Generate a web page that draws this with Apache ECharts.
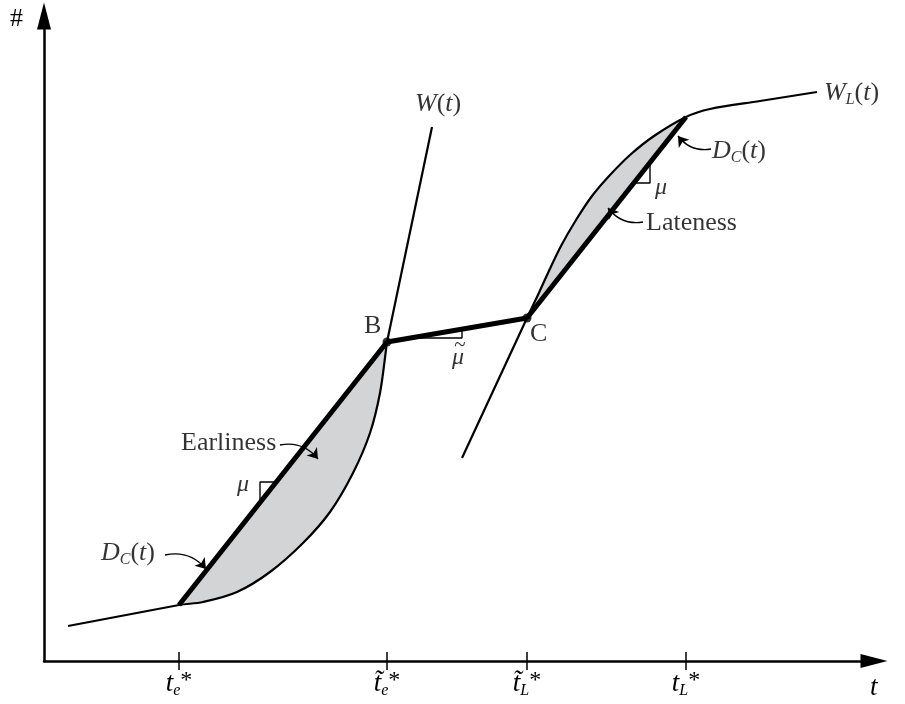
<!DOCTYPE html>
<html><head><meta charset="utf-8">
<script src="https://cdn.jsdelivr.net/npm/echarts@6/dist/echarts.min.js"></script>
<style>html,body{margin:0;padding:0;background:#fff}#c{width:905px;height:704px}</style>
</head><body><div id="c"></div>
<script>
// ---- data (abstract units: t along x, # along y) ----
const tickValues = [13.5, 34.3, 48.3, 64.2];
const tickLabels = ['{t|t}{s|e}{p|*}', '{t|t\u0303}{s|e}{p|*}', '{t|t\u0303}{s|L}{p|*}', '{t|t}{s|L}{p|*}'];
const wLeft = [[2.4, 3.5], [13.5, 5.6]];
const wEarlyCurve = [[13.5, 5.6], [15.9, 5.9], [19.3, 6.9], [22.6, 8.9], [25.9, 11.8], [28.6, 14.9], [30.9, 18.8], [32.6, 22.8], [33.6, 26.8], [34.2, 31.1], [34.3, 31.9]];
const wUpper = [[34.3, 31.9], [38.8, 53.4]];
const dcEarly = [[13.5, 5.6], [34.3, 31.9]];
const plateau = [[34.3, 31.9], [48.3, 34.3]];
const wLLower = [[41.8, 20.3], [48.3, 34.3]];
const wLCurve = [[48.3, 34.3], [49.3, 36.4], [50.4, 38.8], [51.7, 41.5], [53.2, 44.1], [54.8, 46.5], [56.6, 48.6], [58.6, 50.6], [61.0, 52.5], [64.2, 54.4], [66.6, 55.2], [71.6, 56.0], [77.3, 56.9]];
const lateTopIndex = 9;
const dcLate = [[48.3, 34.3], [64.2, 54.4]];
const keyPoints = [[34.3, 31.9], [48.3, 34.3]];
const slopeMarks = [
  [[23.3, 17.9], [21.6, 17.9], [21.6, 15.9]],
  [[36.8, 32.3], [41.8, 32.3], [41.8, 33.2]],
  [[59.0, 47.8], [60.6, 47.8], [60.6, 49.8]]
];
const arrowPaths = [
  [[12.1, 10.6], [16.2, 9.2]],
  [[23.6, 21.6], [27.4, 20.2]],
  [[66.7, 51.2], [63.4, 52.5]],
  [[59.9, 43.9], [56.4, 45.3]]
];
const annotations = [
  {value: [37.1, 55.7], t: '{i|W}{r|(}{i|t}{r|)}'},
  {value: [78.0, 56.8], t: '{i|W}{s|L}{r|(}{i|t}{r|)}'},
  {value: [66.8, 51.0], t: '{i|D}{s|C}{r|(}{i|t}{r|)}'},
  {value: [61.7, 47.3], t: '{m|\u03bc}', label: {align: 'center'}},
  {value: [60.2, 43.8], t: '{r|Lateness}'},
  {value: [32.0, 33.5], t: '{r|B}'},
  {value: [48.6, 32.7], t: '{r|C}'},
  {value: [41.4, 30.3], t: '{m|\u03bc}', label: {align: 'center'}},
  {value: [41.6, 31.6], t: '{tl|~}', label: {align: 'center'}},
  {value: [13.7, 21.8], t: '{r|Earliness}'},
  {value: [19.9, 17.6], t: '{m|\u03bc}', label: {align: 'center'}},
  {value: [5.7, 10.8], t: '{i|D}{s|C}{r|(}{i|t}{r|)}'}
];

const FONT = 'Liberation Serif';
const rich = {
  r: {fontFamily: FONT, fontSize: 26, lineHeight: 30, color: '#000'},
  i: {fontFamily: FONT, fontSize: 26, fontStyle: 'italic', lineHeight: 30, color: '#000'},
  m: {fontFamily: FONT, fontSize: 24, fontStyle: 'italic', lineHeight: 24, color: '#000'},
  tl: {fontFamily: FONT, fontSize: 21, lineHeight: 16, color: '#000'},
  t: {fontFamily: FONT, fontSize: 27, fontStyle: 'italic', lineHeight: 30, color: '#000'},
  s: {fontFamily: FONT, fontSize: 16, fontStyle: 'italic', lineHeight: 14, verticalAlign: 'bottom', color: '#000'},
  p: {fontFamily: FONT, fontSize: 24, lineHeight: 18, verticalAlign: 'top', color: '#000'}
};

function curvePath(P, a, b) {
  let d = 'M' + P[a][0] + ' ' + P[a][1];
  const unit = (u, v) => { const dx = v[0] - u[0], dy = v[1] - u[1], l = Math.hypot(dx, dy) || 1; return [dx / l, dy / l]; };
  for (let i = a; i < b; i++) {
    const p0 = P[Math.max(i - 1, 0)], p1 = P[i], p2 = P[i + 1], p3 = P[Math.min(i + 2, P.length - 1)];
    const seg = Math.hypot(p2[0] - p1[0], p2[1] - p1[1]) / 3;
    const t1 = unit(p0, p2), t2 = unit(p1, p3);
    d += ' C' + (p1[0] + t1[0] * seg) + ' ' + (p1[1] + t1[1] * seg) + ' ' +
      (p2[0] - t2[0] * seg) + ' ' + (p2[1] - t2[1] * seg) + ' ' + p2[0] + ' ' + p2[1];
  }
  return d;
}

const chart = echarts.init(document.getElementById('c'), null, {renderer: 'canvas'});
const lineSeg = (data, w, z) => ({
  type: 'line', data: data, showSymbol: false, symbol: 'none', silent: true, z: z || 3,
  lineStyle: {color: '#000', width: w}, emphasis: {disabled: true}
});
const tickCommon = {show: true, customValues: tickValues, length: 9, lineStyle: {color: '#000', width: 1.5}};
chart.setOption({
  animation: false,
  backgroundColor: '#fff',
  grid: {left: 44, right: 31, top: 16, bottom: 43},
  xAxis: [{
    type: 'value', min: 0, max: 83, position: 'bottom',
    name: 't', nameLocation: 'end', nameGap: -4,
    nameTextStyle: {fontFamily: FONT, fontSize: 27, fontStyle: 'italic', color: '#000', align: 'left', verticalAlign: 'top', padding: [13, 0, 0, 0]},
    axisLine: {show: true, symbol: ['none', 'triangle'], symbolSize: [14, 27], lineStyle: {color: '#000', width: 2.5}},
    axisTick: Object.assign({}, tickCommon, {inside: false}),
    axisLabel: {show: true, customValues: tickValues, margin: 8, rich: rich,
      formatter: v => tickLabels[tickValues.indexOf(v)]},
    splitLine: {show: false}
  }, {
    type: 'value', min: 0, max: 83, position: 'bottom', offset: 0,
    axisLine: {show: false},
    axisTick: Object.assign({}, tickCommon, {inside: true}),
    axisLabel: {show: false},
    splitLine: {show: false}
  }],
  yAxis: {
    type: 'value', min: 0, max: 64.5,
    name: '#', nameLocation: 'end', nameGap: -3,
    nameTextStyle: {fontFamily: FONT, fontSize: 26, color: '#000', align: 'right', verticalAlign: 'middle', padding: [0, 21, 0, 0]},
    axisLine: {show: true, symbol: ['none', 'triangle'], symbolSize: [14, 27], lineStyle: {color: '#000', width: 2.5}},
    axisTick: {show: false}, axisLabel: {show: false}, splitLine: {show: false}
  },
  series: [
    {
      type: 'custom', coordinateSystem: 'cartesian2d', data: [[0, 0]], silent: true, z: 1,
      renderItem: (params, api) => {
        const E = [wLeft[0]].concat(wEarlyCurve, [wUpper[1]]).map(p => api.coord(p));
        const L = [wLLower[0]].concat(wLCurve).map(p => api.coord(p));
        return {type: 'group', children: [
          {type: 'path', shape: {pathData: curvePath(E, 1, E.length - 2) + ' Z'}, style: {fill: '#d3d4d6', stroke: 'none'}},
          {type: 'path', shape: {pathData: curvePath(L, 1, 1 + lateTopIndex) + ' Z'}, style: {fill: '#d3d4d6', stroke: 'none'}},
          {type: 'path', shape: {pathData: curvePath(E, 1, E.length - 2)}, style: {fill: 'none', stroke: '#000', lineWidth: 2.2}},
          {type: 'path', shape: {pathData: curvePath(L, 1, L.length - 1)}, style: {fill: 'none', stroke: '#000', lineWidth: 2.2}}
        ]};
      }
    },
    lineSeg(wLeft, 2.2),
    lineSeg(wUpper, 2.2),
    lineSeg(wLLower, 2.2),
    lineSeg(dcEarly, 5, 4),
    lineSeg(plateau, 5, 4),
    lineSeg(dcLate, 5, 4),
    lineSeg(slopeMarks[0], 1.4),
    lineSeg(slopeMarks[1], 1.4),
    lineSeg(slopeMarks[2], 1.4),
    {
      type: 'lines', coordinateSystem: 'cartesian2d', silent: true, z: 5,
      data: arrowPaths.map(a => ({coords: a})),
      symbol: ['none', 'arrow'], symbolSize: 10,
      lineStyle: {color: '#000', width: 1.4, curveness: 0.3, opacity: 1}
    },
    {
      type: 'scatter', data: keyPoints, symbol: 'circle', symbolSize: 9, silent: true, z: 6,
      itemStyle: {color: '#000'}
    },
    {
      type: 'scatter', data: annotations, symbol: 'circle', symbolSize: 1, silent: true, z: 7, clip: false,
      itemStyle: {color: 'rgba(0,0,0,0)'},
      label: {show: true, position: 'inside', align: 'left', verticalAlign: 'middle', rich: rich,
        formatter: p => p.data.t}
    }
  ]
});
</script>
</body></html>
